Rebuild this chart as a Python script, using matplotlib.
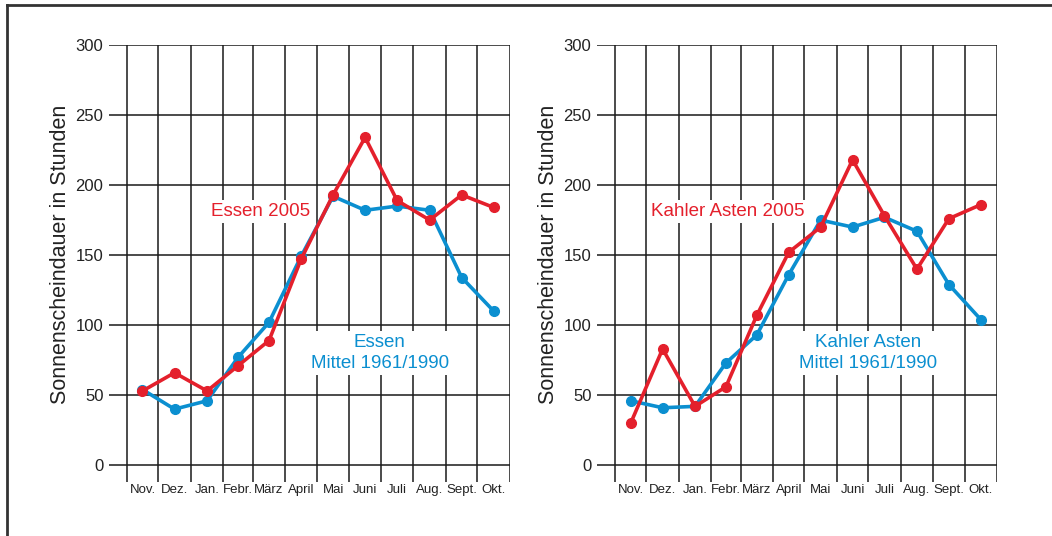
import numpy as np
import matplotlib
matplotlib.use('Agg')
import matplotlib.pyplot as plt
from matplotlib.lines import Line2D

# Monthly sunshine duration in hours (Nov - Okt)
months = ['Nov.', 'Dez.', 'Jan.', 'Febr.', 'März', 'April', 'Mai', 'Juni', 'Juli', 'Aug.', 'Sept.', 'Okt.']
days_in_month = [30, 31, 31, 28, 31, 30, 31, 30, 31, 31, 30, 31]

essen_2005 = [53, 66, 53, 71, 89, 147, 193, 234, 189, 175, 193, 184]
essen_mittel = [54, 40, 46, 77, 102, 149, 192, 182, 185, 182, 134, 110]
kahler_2005 = [30, 83, 42, 56, 107, 152, 170, 218, 178, 140, 176, 186]
kahler_mittel = [46, 41, 42, 73, 93, 136, 175, 170, 177, 167, 129, 104]

yticks = [0, 50, 100, 150, 200, 250, 300]

RED = '#e4202c'
BLUE = '#0b8fd0'
FONT = ['Liberation Sans', 'DejaVu Sans']

bounds = np.concatenate([[0], np.cumsum(days_in_month)])
centers = (bounds[:-1] + bounds[1:]) / 2

fig = plt.figure(figsize=(10.52, 5.36), dpi=100)

# frame around the graphic (left and top edge visible)
fig.add_artist(Line2D([7/1052, 1], [1 - 5/536, 1 - 5/536], color='#333333', lw=2))
fig.add_artist(Line2D([7/1052, 7/1052], [0, 1 - 5/536], color='#333333', lw=2))


def draw_panel(rect, xmin, y2005, ymittel, title2005, title_mittel, pos2005, pos_mittel):
    ax = fig.add_axes(rect)
    ax.set_xlim(xmin, 365)
    ax.set_ylim(-12, 300)
    for s in ax.spines.values():
        s.set_visible(False)

    # grid: horizontal lines over the full width, vertical month boundaries
    for y in yticks:
        ax.axhline(y, color='#1a1a1a', lw=1.1, zorder=1)
    ax.vlines(bounds, -12, 300, color='#1a1a1a', lw=1.1, zorder=1)

    ax.plot(centers, ymittel, color=BLUE, lw=2.6, marker='o', ms=7, zorder=4)
    ax.plot(centers, y2005, color=RED, lw=2.6, marker='o', ms=7, zorder=5)

    ax.set_yticks(yticks)
    ax.set_yticklabels([str(v) for v in yticks], family=FONT, fontsize=12, color='#222222')
    ax.set_xticks(centers)
    ax.set_xticklabels(months, family=FONT, fontsize=9.5, color='#222222')
    ax.tick_params(axis='both', length=0)
    ax.tick_params(axis='y', pad=4)
    ax.tick_params(axis='x', pad=1.5)
    ax.set_ylabel('Sonnenscheindauer in Stunden', family=FONT, fontsize=15.5,
                  color='#222222', labelpad=3)
    ax.yaxis.label.set_y(0.52)

    box = dict(facecolor='white', edgecolor='none', pad=2)
    ax.text(pos2005[0], pos2005[1], title2005, color=RED, family=FONT, fontsize=13.5,
            ha='center', va='center', bbox=box, zorder=3)
    ax.text(pos_mittel[0], pos_mittel[1], title_mittel, color=BLUE, family=FONT, fontsize=13.5,
            ha='center', va='center', bbox=box, zorder=3, linespacing=1.35)
    return ax


draw_panel([109/1052, 1 - 482/536, 401/1052, 437/536], -16.9,
           essen_2005, essen_mittel, 'Essen 2005', 'Essen\nMittel 1961/1990',
           (127, 181), (241, 80))
draw_panel([597/1052, 1 - 482/536, 400/1052, 437/536], -17.2,
           kahler_2005, kahler_mittel, 'Kahler Asten 2005', 'Kahler Asten\nMittel 1961/1990',
           (108, 181), (242, 80))

plt.savefig('out.png', dpi=100)
